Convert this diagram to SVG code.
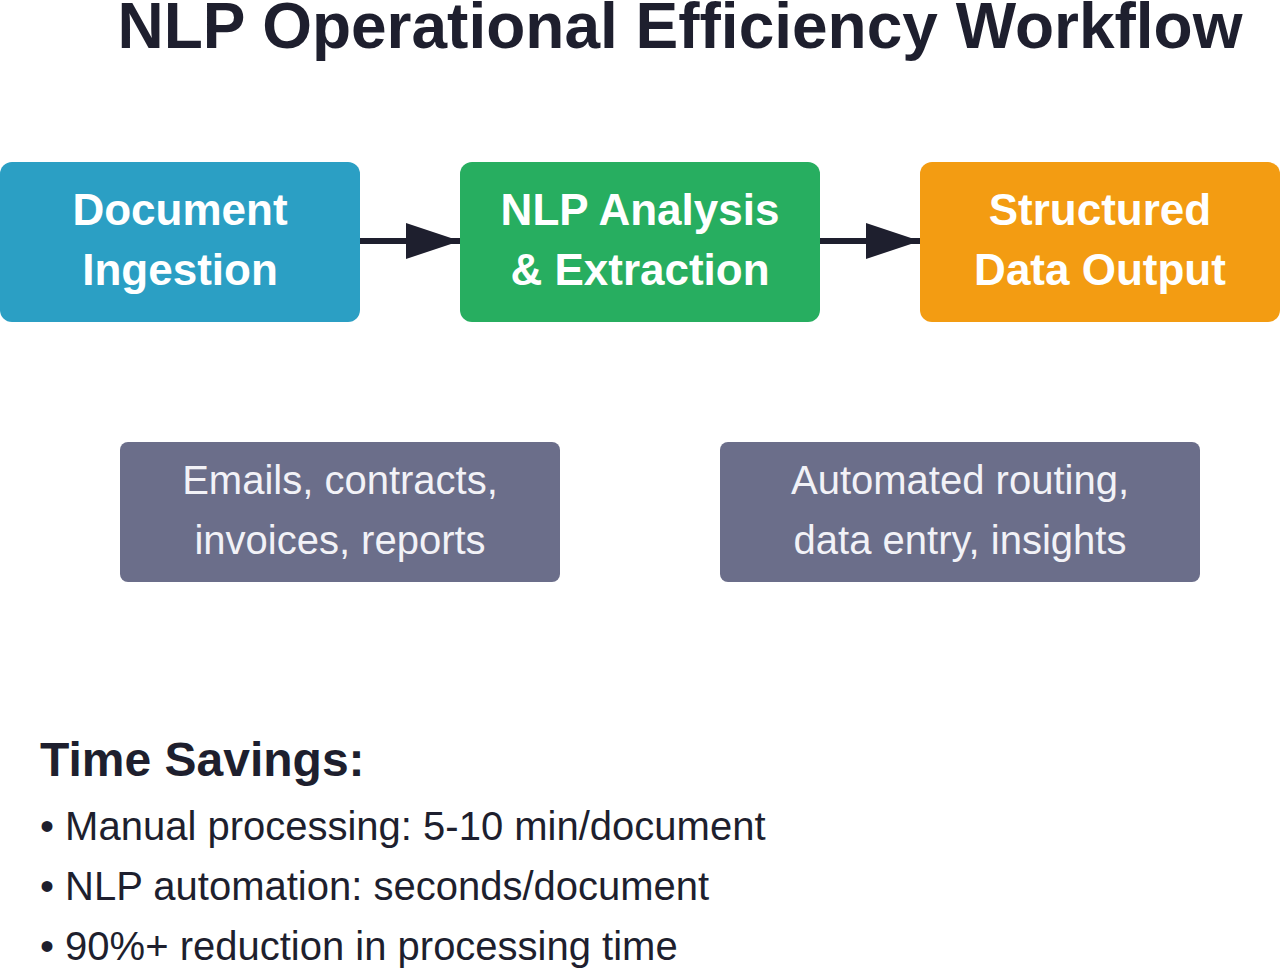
<svg xmlns="http://www.w3.org/2000/svg" width="1280" height="968" viewBox="0 0 1280 968">
<style>
.t{font-family:"Liberation Sans",Arial,sans-serif}
.title{font-size:64px;font-weight:bold;fill:#1e1f2e}
.nl{font-size:44px;font-weight:bold;fill:#ffffff}
.gl{font-size:40px;fill:#f2f2f7}
.h{font-size:48px;font-weight:bold;fill:#1e1f2e}
.b{font-size:40px;fill:#1e1f2e}
.conn{stroke:#1e1f2e;stroke-width:6;fill:none}
</style>
<defs>
<marker id="ah" markerUnits="userSpaceOnUse" markerWidth="56" markerHeight="38" refX="54" refY="18" orient="auto">
<path d="M0,0 L54,18 L0,36 Z" fill="#1e1f2e"/>
</marker>
</defs>
<rect width="1280" height="968" fill="#ffffff"/>
<text class="t title" x="680" y="48" text-anchor="middle">NLP Operational Efficiency Workflow</text>
<g id="connectors">
<line class="conn" x1="360" y1="241" x2="460" y2="241" marker-end="url(#ah)"/>
<line class="conn" x1="820" y1="241" x2="920" y2="241" marker-end="url(#ah)"/>
</g>
<g id="node-ingestion">
<rect x="0" y="162" width="360" height="160" rx="12" fill="#2b9fc4"/>
<text class="t nl" x="180" y="225" text-anchor="middle">Document</text>
<text class="t nl" x="180" y="285" text-anchor="middle">Ingestion</text>
</g>
<g id="node-analysis">
<rect x="460" y="162" width="360" height="160" rx="12" fill="#27ae60"/>
<text class="t nl" x="640" y="225" text-anchor="middle">NLP Analysis</text>
<text class="t nl" x="640" y="285" text-anchor="middle">&amp; Extraction</text>
</g>
<g id="node-output">
<rect x="920" y="162" width="360" height="160" rx="12" fill="#f39c12"/>
<text class="t nl" x="1100" y="225" text-anchor="middle">Structured</text>
<text class="t nl" x="1100" y="285" text-anchor="middle">Data Output</text>
</g>
<g id="note-inputs">
<rect x="120" y="442" width="440" height="140" rx="8" fill="#6b6e8a"/>
<text class="t gl" x="340" y="494" text-anchor="middle">Emails, contracts,</text>
<text class="t gl" x="340" y="554" text-anchor="middle">invoices, reports</text>
</g>
<g id="note-outputs">
<rect x="720" y="442" width="480" height="140" rx="8" fill="#6b6e8a"/>
<text class="t gl" x="960" y="494" text-anchor="middle">Automated routing,</text>
<text class="t gl" x="960" y="554" text-anchor="middle">data entry, insights</text>
</g>
<g id="time-savings">
<text class="t h" x="40" y="776">Time Savings:</text>
<text class="t b" x="40" y="840">• Manual processing: 5-10 min/document</text>
<text class="t b" x="40" y="900">• NLP automation: seconds/document</text>
<text class="t b" x="40" y="960">• 90%+ reduction in processing time</text>
</g>
</svg>
